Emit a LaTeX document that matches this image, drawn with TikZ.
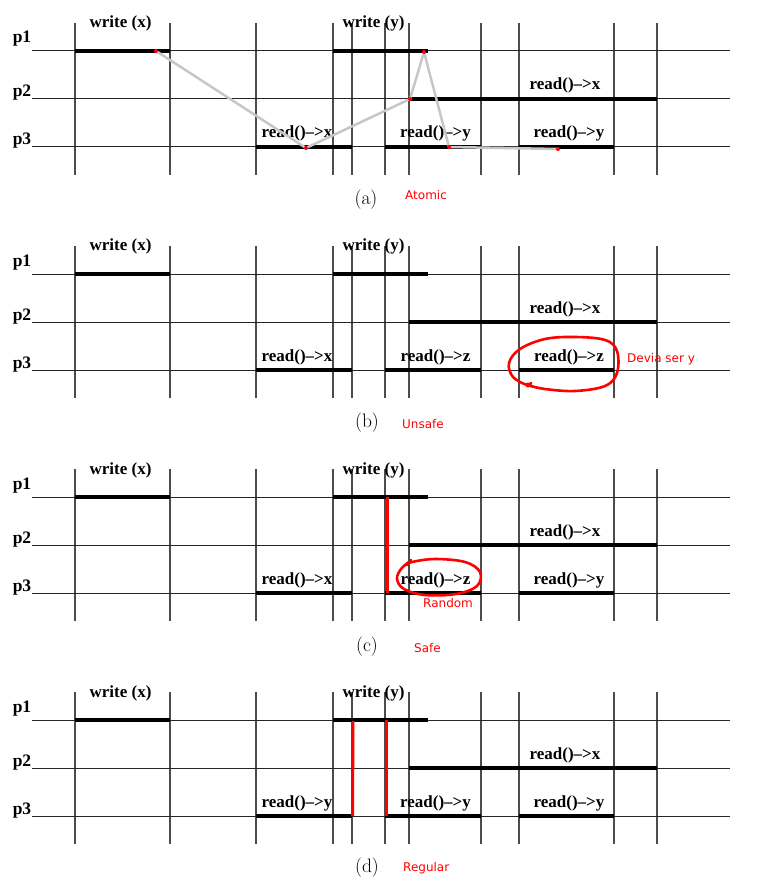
\documentclass[tikz,border=0pt]{standalone}
\usepackage{fontspec}
\newfontfamily\tnr{Liberation Serif}
\newfontfamily\djs{DejaVu Sans}
\newcommand\panelgrid[1]{%
  \foreach \xx in {75,170,256,333,352,385,409,481,519,614,657}
    \draw[vline] (\xx,23) -- (\xx,175);
  \foreach \yy in {51,99,147}
    \draw[hline] (32,\yy) -- (730,\yy);
  \node[plbl] (p1#1) at (22,43) {p1};
  \node[plbl] (p2#1) at (22,97) {p2};
  \node[plbl] (p3#1) at (22,145) {p3};
  \draw[op] (75,51) -- (170,51);
  \draw[op] (333,51) -- (428,51);
  \draw[op] (409,99) -- (657,99);
  \draw[op] (256,147) -- (352,147);
  \draw[op] (385,147) -- (481,147);
  \draw[op] (519,147) -- (614,147);
  \node[lbl] (wx#1) at (120.5,28) {write (x)};
  \node[lbl] (wy#1) at (373.5,28) {write (y)};
  \node[lbl] (rx#1) at (565,90) {read()\textendash>x};
}
\newcommand\rd[1]{read()\textendash>#1}
\begin{document}
\begin{tikzpicture}[x=1pt,y=-1pt,
  hline/.style={black!85, line width=1pt},
  vline/.style={black!70, line width=1.4pt},
  op/.style={black, line width=4pt},
  lbl/.style={font=\tnr\bfseries\fontsize{17}{20}\selectfont, anchor=base, inner sep=0pt},
  plbl/.style={font=\tnr\bfseries\fontsize{17.5}{20}\selectfont, anchor=base, inner sep=0pt},
  captxt/.style={font=\fontsize{19.5}{22}\selectfont, inner sep=0pt},
  note/.style={font=\djs\fontsize{12}{14}\selectfont, text=red, anchor=west, inner sep=0pt},
  redline/.style={red, line width=3pt},
  hist/.style={black!22, line width=2.5pt},
  dot/.style={circle, fill=red, inner sep=0pt, minimum size=4pt},
  redcurve/.style={red, line width=2.6pt, line cap=round, line join=round}]
\useasboundingbox (0,0) rectangle (764,885);

% ---------- (a) ----------
\begin{scope}
  \panelgrid{a}
  \node[lbl] (r1a) at (297,138) {\rd{x}};
  \node[lbl] (r2a) at (435.5,138) {\rd{y}};
  \node[lbl] (r3a) at (569,138) {\rd{y}};
  \coordinate (h1) at (156,51);
  \coordinate (h2) at (306,148);
  \coordinate (h3) at (410,99);
  \coordinate (h4) at (424,52);
  \coordinate (h5) at (449,147);
  \coordinate (h6) at (558,149);
  \draw[hist, line join=round] (h1) -- (h2) -- (h3) -- (h4) -- (h5) -- (h6);
  \foreach \p in {h1,h2,h3,h4,h5,h6} \node[dot] at (\p) {};
  \node[captxt] (capa) at (366,200) {(a)};
  \node[note] (nota) at (405,195) {Atomic};
\end{scope}

% ---------- (b) ----------
\begin{scope}[yshift=-223pt]
  \panelgrid{b}
  \node[lbl] (r1b) at (297,138) {\rd{x}};
  \node[lbl] (r2b) at (435.5,138) {\rd{z}};
  \node[lbl] (r3b) at (569,138) {\rd{z}};
  \draw[redcurve] plot[smooth, tension=0.6] coordinates
    {(527,162) (545,166) (575,168) (605,163) (617,150) (617,128) (605,117) (575,114) (545,116) (520,126) (509,140) (513,154) (527,162) (531,160)};
  \fill[red] (528,162) circle (2.5pt);
  \node[captxt] (capb) at (367,200) {(b)};
  \node[note] (notb) at (402,201) {Unsafe};
  \node[note] (devia) at (627,136) {Devia ser y};
\end{scope}

% ---------- (c) ----------
\begin{scope}[yshift=-446pt]
  \panelgrid{c}
  \node[lbl] (r1c) at (297,138) {\rd{x}};
  \node[lbl] (r2c) at (435.5,138) {\rd{z}};
  \node[lbl] (r3c) at (569,138) {\rd{y}};
  \coordinate (ct) at (387,51);
  \coordinate (cb) at (387,147);
  \draw[redline] (ct) -- (cb);
  \draw[redcurve] plot[smooth, tension=0.6] coordinates
    {(409,116) (401,123) (397,133) (404,143) (425,149) (456,148) (477,140) (480,126) (465,116) (435,113) (412,116) (407,119)};
  \draw[redcurve] (407,119) -- (411,114);
  \node[captxt] (capc) at (367,201) {(c)};
  \node[note] (notc) at (414,202) {Safe};
  \node[note] (rand) at (423,157) {Random};
\end{scope}

% ---------- (d) ----------
\begin{scope}[yshift=-669pt]
  \panelgrid{d}
  \node[lbl] (r1d) at (297,138) {\rd{y}};
  \node[lbl] (r2d) at (435.5,138) {\rd{y}};
  \node[lbl] (r3d) at (569,138) {\rd{y}};
  \coordinate (d1t) at (353,52);
  \coordinate (d1b) at (352.5,147);
  \coordinate (d2t) at (386,51);
  \coordinate (d2b) at (386,147);
  \draw[redline] (d1t) -- (d1b);
  \draw[redline] (d2t) -- (d2b);
  \node[captxt] (capd) at (367,199) {(d)};
  \node[note] (notd) at (403,199) {Regular};
\end{scope}
\end{tikzpicture}
\end{document}
